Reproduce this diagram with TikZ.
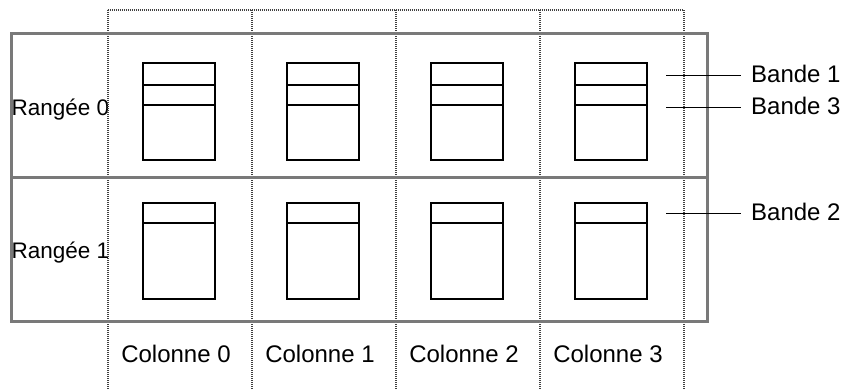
\documentclass[tikz,border=0pt]{standalone}
\usepackage{fontspec}
\setmainfont{Liberation Sans}
\begin{document}
\begin{tikzpicture}[x=1pt,y=-1pt,
  grid/.style={draw=black!75, line width=2pt, dash pattern=on 1pt off 1pt},
  frame/.style={draw=gray!95!black, line width=3pt},
  band/.style={draw=black, line width=1.8pt, rectangle, minimum width=72pt, inner sep=0pt},
  stripe/.style={draw=black, line width=1.8pt},
  lbl/.style={font=\fontsize{24}{28}\selectfont, inner sep=0pt},
  rowlbl/.style={font=\fontsize{22.5}{26}\selectfont, inner sep=0pt}]
\useasboundingbox (0,0) rectangle (846,389);
% row labels (clipped at the first column line)
\begin{scope}
\clip (0,0) rectangle (107.5,389);
\node[rowlbl, anchor=base west] (row0) at (11.5,115.5) {Rangée 0};
\node[rowlbl, anchor=base west] (row1) at (11.5,258) {Rangée 1};
\end{scope}
% dotted column grid
\coordinate (t0) at (107.5,10); \coordinate (b0) at (107.5,389);
\coordinate (t1) at (251.5,10); \coordinate (b1) at (251.5,389);
\coordinate (t2) at (395.5,10); \coordinate (b2) at (395.5,389);
\coordinate (t3) at (539.5,10); \coordinate (b3) at (539.5,389);
\coordinate (t4) at (683.5,10); \coordinate (b4) at (683.5,389);
\draw[grid] (t0) -- (t4);
\foreach \i in {0,...,4} { \draw[grid] (t\i) -- (b\i); }
% gray row frame
\coordinate (fa) at (11,33); \coordinate (fb) at (707,321);
\coordinate (ma) at (11,177); \coordinate (mb) at (707,177);
\draw[frame] (fa) rectangle (fb);
\draw[frame] (ma) -- (mb);
% boxes
\foreach \c/\x in {0/179,1/323,2/467,3/611} {
  \node[band, minimum height=97pt] (r0c\c) at (\x,111.5) {};
  \draw[stripe] (\x-36,85) -- (\x+36,85);
  \draw[stripe] (\x-36,105) -- (\x+36,105);
  \node[band, minimum height=96pt] (r1c\c) at (\x,251) {};
  \draw[stripe] (\x-36,223) -- (\x+36,223);
  \node[lbl, anchor=base] (col\c) at (\x-3,362.5) {Colonne \c};
}
% band labels
\node[lbl, anchor=base west] (bd1) at (751,82.5) {Bande 1};
\node[lbl, anchor=base west] (bd3) at (751,114.3) {Bande 3};
\node[lbl, anchor=base west] (bd2) at (751,220) {Bande 2};
\coordinate (s1) at (666,75.5);
\coordinate (s3) at (666,107.5);
\coordinate (s2) at (666,213.5);
\coordinate (e1) at (741,75.5);
\coordinate (e3) at (741,107.5);
\coordinate (e2) at (741,213.5);
\draw[stripe] (s1) -- (e1);
\draw[stripe] (s3) -- (e3);
\draw[stripe] (s2) -- (e2);
\end{tikzpicture}
\end{document}
